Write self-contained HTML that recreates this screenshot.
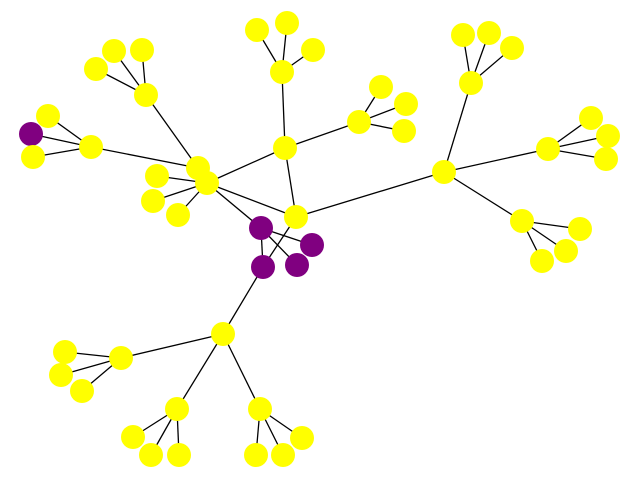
<!DOCTYPE html>
<html><head><meta charset="utf-8"><style>html,body{margin:0;padding:0;background:#fff}svg{display:block}</style></head>
<body>
<svg id="g" width="640" height="480"></svg>
<script>
const nodeX=[296,285,282,359,444,471,548,522,198,207,146,91,223,121,177,260,261,312,297,263,
257,287,313,381,406,404,463,489,512,591,608,606,580,566,542,157,153,178,96,114,142,48,31,33,65,61,82,133,151,179,256,283,302];
const nodeY=[217,148,72,122,172,83,149,221,168,183,95,147,334,358,409,409,228,245,265,267,
30,23,50,87,104,131,35,33,48,118,136,159,229,251,261,176,201,215,69,51,50,116,134,157,352,375,391,437,455,455,455,455,438];
const purple=[16,17,18,19,42];
const edgeFrom=[0,0,0,0,1,1,1,4,4,4,9,9,8,8,16,16,16,19,12,12,12,2,2,2,3,3,3,5,5,5,6,6,6,7,7,7,9,9,9,10,10,10,11,11,11,13,13,13,14,14,14,15,15,15];
const edgeTo=[1,4,9,19,2,3,9,5,6,7,8,16,10,11,17,18,19,12,13,14,15,20,21,22,23,24,25,26,27,28,29,30,31,32,33,34,35,36,37,38,39,40,41,42,43,44,45,46,47,48,49,50,51,52];
const svg=document.getElementById('g');const NS='http://www.w3.org/2000/svg';
for(let i=0;i<edgeFrom.length;i++){const l=document.createElementNS(NS,'line');
l.setAttribute('x1',nodeX[edgeFrom[i]]);l.setAttribute('y1',nodeY[edgeFrom[i]]);
l.setAttribute('x2',nodeX[edgeTo[i]]);l.setAttribute('y2',nodeY[edgeTo[i]]);
l.setAttribute('stroke','#000');l.setAttribute('stroke-width','1.3');


svg.appendChild(l);}
const order=[];for(let i=0;i<nodeX.length;i++)if(i!==9)order.push(i);order.splice(8,0,9);
const ord=[...Array(nodeX.length).keys()].filter(i=>i!==8&&i!==9);ord.push(8,9);
for(const i of ord){const c=document.createElementNS(NS,'circle');
c.setAttribute('cx',nodeX[i]);c.setAttribute('cy',nodeY[i]);c.setAttribute('r',12);
c.setAttribute('fill',purple.includes(i)?'#800080':'#ffff00');


svg.appendChild(c);}
</script>
</body></html>
